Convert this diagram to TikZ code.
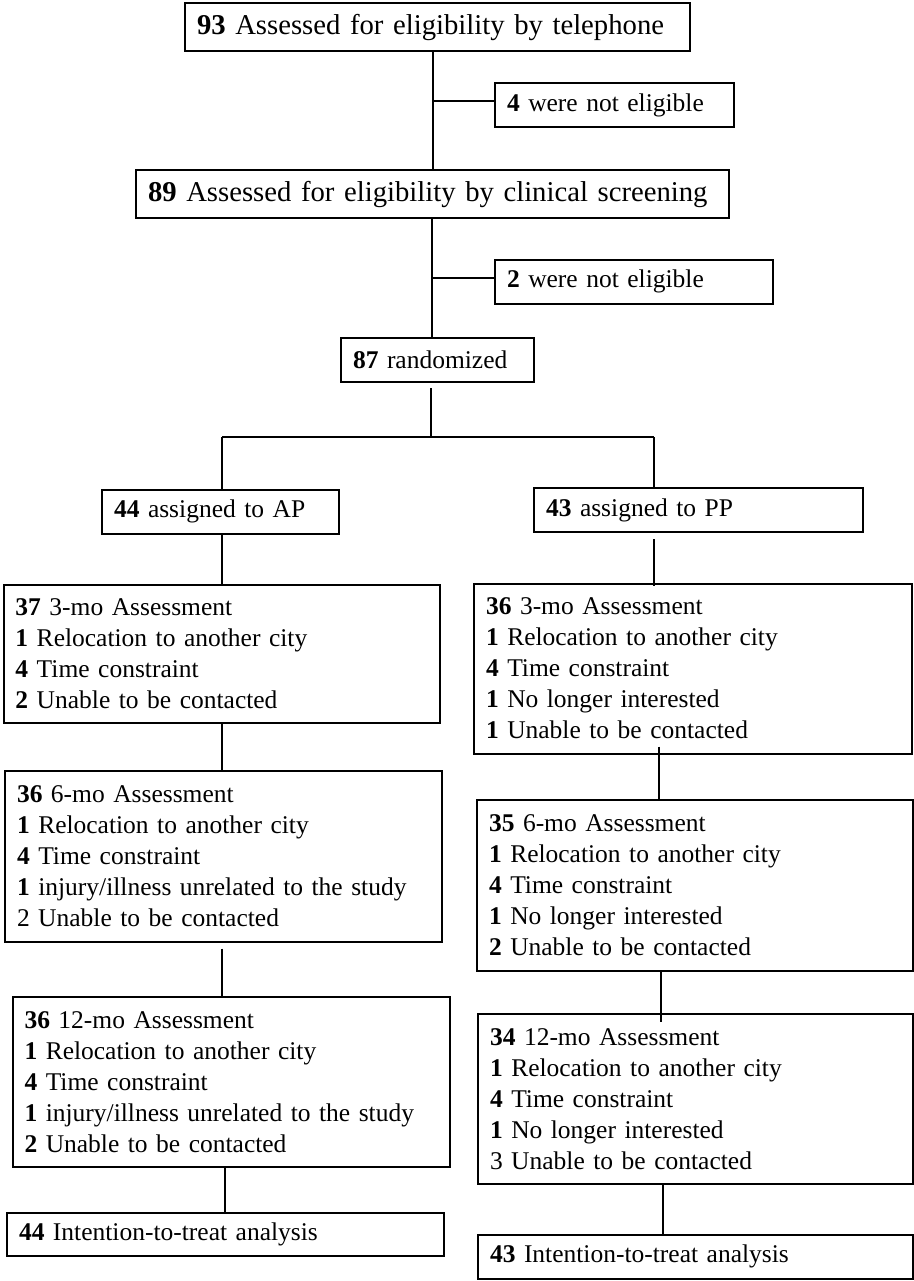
\documentclass[tikz,border=0pt]{standalone}
\usepackage{fontspec}
\setmainfont{Liberation Serif}
\begin{document}
\begin{tikzpicture}[x=1pt,y=-1pt,
  bx/.style={draw, line width=2pt, anchor=north west, inner xsep=12pt, inner ysep=0pt, align=left, font=\fontsize{25.5}{31}\selectfont},
  big/.style={font=\fontsize{28.7}{34}\selectfont},
  ln/.style={line width=2pt}]
\useasboundingbox (0,0) rectangle (913,1281);
% boxes
\node[bx,big, text width=481pt, minimum height=47.5pt] (top) at (184,2.5) {\mbox{\textbf{93} Assessed for eligibility by telephone}};
\node[bx, text width=215pt, minimum height=44pt] (ne1) at (494,82) {\mbox{\textbf{4} were not eligible}};
\node[bx,big, text width=569pt, minimum height=48.5pt] (scr) at (135,169) {\mbox{\textbf{89} Assessed for eligibility by clinical screening}};
\node[bx, text width=254pt, minimum height=43.5pt] (ne2) at (494,259) {\mbox{\textbf{2} were not eligible}};
\node[bx, text width=169pt, minimum height=44pt] (rand) at (340,337) {\mbox{\textbf{87} randomized}};
\node[bx, text width=213pt, minimum height=43.5pt] (ap) at (101,489) {\mbox{\textbf{44} assigned to AP}};
\node[bx, text width=305pt, minimum height=44pt] (pp) at (533,487) {\mbox{\textbf{43} assigned to PP}};
\node[bx, text width=412.5pt, minimum height=138pt] (a3) at (2.5,584) {\textbf{37} 3-mo Assessment\\\textbf{1} Relocation to another city\\\textbf{4} Time constraint\\\textbf{2} Unable to be contacted};
\node[bx, text width=414pt, minimum height=170pt] (p3) at (473,582.5) {\textbf{36} 3-mo Assessment\\\textbf{1} Relocation to another city\\\textbf{4} Time constraint\\\textbf{1} No longer interested\\\textbf{1} Unable to be contacted};
\node[bx, text width=413pt, minimum height=170.5pt] (a6) at (4,770) {\textbf{36} 6-mo Assessment\\\textbf{1} Relocation to another city\\\textbf{4} Time constraint\\\textbf{1} injury/illness unrelated to the study\\2 Unable to be contacted};
\node[bx, text width=411.5pt, minimum height=171pt] (p6) at (476,799) {\textbf{35} 6-mo Assessment\\\textbf{1} Relocation to another city\\\textbf{4} Time constraint\\\textbf{1} No longer interested\\\textbf{2} Unable to be contacted};
\node[bx, text width=413.5pt, minimum height=169.5pt] (a12) at (11.5,996) {\textbf{36} 12-mo Assessment\\\textbf{1} Relocation to another city\\\textbf{4} Time constraint\\\textbf{1} injury/illness unrelated to the study\\\textbf{2} Unable to be contacted};
\node[bx, text width=410.5pt, minimum height=170pt] (p12) at (477,1013) {\textbf{34} 12-mo Assessment\\\textbf{1} Relocation to another city\\\textbf{4} Time constraint\\\textbf{1} No longer interested\\3 Unable to be contacted};
\node[bx, text width=413pt, minimum height=43pt] (aitt) at (6,1212) {\mbox{\textbf{44} Intention-to-treat analysis}};
\node[bx, text width=410.5pt, minimum height=43.5pt] (pitt) at (477,1234) {\mbox{\textbf{43} Intention-to-treat analysis}};
% junction coordinates
\coordinate (j1) at (433,101);
\coordinate (j2) at (432,278);
\coordinate (sp) at (431,437);
\coordinate (sl) at (222,437);
\coordinate (sr) at (654,437);
\coordinate (ca) at (222,0);
\coordinate (cb) at (225,0);
\coordinate (r1) at (654,0);
\coordinate (r2) at (659,0);
\coordinate (r3) at (661,0);
\coordinate (r4) at (663,0);
% connectors
\draw[ln] (top.south -| j1) -- (scr.north -| j1);
\draw[ln] (j1) -- (j1 -| ne1.west);
\draw[ln] (scr.south -| j2) -- (rand.north -| j2);
\draw[ln] (j2) -- (j2 -| ne2.west);
\draw[ln, shorten <=5pt] (rand.south -| sp) -- (sp);
\draw[ln] (sl) -- (sr);
\draw[ln] (sl) -- (sl |- ap.north);
\draw[ln] (sr) -- (sr |- pp.north);
\draw[ln] (ap.south -| ca) -- (a3.north -| ca);
\draw[ln] (a3.south -| ca) -- (a6.north -| ca);
\draw[ln, shorten <=6pt] (a6.south -| ca) -- (a12.north -| ca);
\draw[ln] (a12.south -| cb) -- (aitt.north -| cb);
\draw[ln, shorten <=6pt, shorten >=-3.5pt] (pp.south -| r1) -- (p3.north -| r1);
\draw[ln, shorten <=-8pt] (p3.south -| r2) -- (p6.north -| r2);
\draw[ln, shorten >=-8.5pt] (p6.south -| r3) -- (p12.north -| r3);
\draw[ln] (p12.south -| r4) -- (pitt.north -| r4);
\end{tikzpicture}
\end{document}
